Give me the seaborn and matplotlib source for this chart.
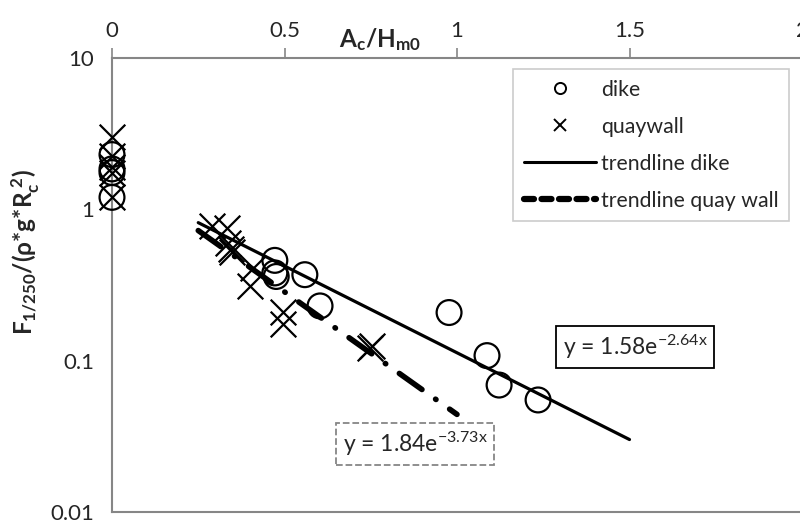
import numpy as np
import pandas as pd
import matplotlib
matplotlib.use("Agg")
import matplotlib.pyplot as plt
from matplotlib.lines import Line2D
import seaborn as sns

# ---- data ----
dike_x = [0, 0, 0, 0, 0.472, 0.472, 0.476, 0.559, 0.603, 0.977, 1.087, 1.122, 1.235]
dike_y = [2.3, 1.85, 1.75, 1.2, 0.46, 0.38, 0.36, 0.37, 0.23, 0.208, 0.108, 0.069, 0.055]
quay_x = [0, 0, 0, 0, 0, 0.29, 0.333, 0.336, 0.345, 0.348, 0.41, 0.40, 0.496, 0.496, 0.748, 0.755]
quay_y = [3.0, 2.25, 1.9, 1.75, 1.2, 0.78, 0.75, 0.60, 0.55, 0.52, 0.41, 0.31, 0.21, 0.176, 0.122, 0.125]
# trendlines: y = a * exp(b x)
dike_fit = (1.58, -2.64)
quay_fit = (1.84, -3.73)
dike_range = [0.25, 1.5]
quay_range = [0.25, 1.0]
x_ticks = [0, 0.5, 1, 1.5, 2]
x_ticklabels = ["0", "0.5", "1", "1.5", "2"]
y_ticks = [0.01, 0.1, 1, 10]
y_ticklabels = ["0.01", "0.1", "1", "10"]

sns.set_style("white")
plt.rcParams['font.family'] = ['Lato', 'DejaVu Sans']
plt.rcParams['mathtext.fontset'] = 'custom'
plt.rcParams['mathtext.rm'] = 'Lato'
plt.rcParams['mathtext.it'] = 'Lato'
plt.rcParams['mathtext.bf'] = 'Lato:bold'

fig = plt.figure(figsize=(8, 5.21), dpi=100)
ax = fig.add_axes([112/800, 1-512/521, 690/800, (512-58)/521])

gray = "#868686"

sns.scatterplot(x=dike_x, y=dike_y, ax=ax, marker="o", s=320, facecolor="none",
                edgecolor="black", linewidth=1.6, zorder=4, clip_on=False)
sns.scatterplot(x=quay_x, y=quay_y, ax=ax, marker="x", s=340, color="black",
                linewidth=1.6, zorder=4, clip_on=False)

dx = np.linspace(dike_range[0], dike_range[1], 100)
qx = np.linspace(quay_range[0], quay_range[1], 100)
sns.lineplot(x=dx, y=dike_fit[0]*np.exp(dike_fit[1]*dx), ax=ax, color="black", lw=2.3, zorder=3)
ql = sns.lineplot(x=qx, y=quay_fit[0]*np.exp(quay_fit[1]*qx), ax=ax, color="black", lw=4, zorder=3)
ql.lines[-1].set_dashes([5, 3, 0.1, 3])
ql.lines[-1].set_dash_capstyle("round")

ax.set_yscale("log")
ax.set_xlim(0, 2)
ax.set_ylim(0.01, 10)
ax.xaxis.tick_top()
ax.set_xticks(x_ticks)
ax.set_xticklabels(x_ticklabels)
ax.set_yticks(y_ticks)
ax.set_yticklabels(y_ticklabels)
ax.minorticks_off()
ax.tick_params(axis="both", which="major", length=7, width=1.2, color=gray,
               labelsize=16, direction="out", pad=6)
ax.tick_params(axis="x", pad=5)
for side in ["top", "left", "bottom"]:
    ax.spines[side].set_color(gray)
    ax.spines[side].set_linewidth(1.5)
ax.spines["right"].set_visible(False)

fig.text(380/800, 1-40/521, r"$\mathbf{A_c/H_{m0}}$", ha="center", va="center", fontsize=17.5)
fig.text(26/800, 1-252/521, r"$\mathbf{F_{1/250}/(\rho{*}g{*}R_c^{\ 2})}$", ha="center", va="center",
         fontsize=17.5, rotation=90)

handles = [
    Line2D([], [], marker="o", ls="none", mfc="none", mec="black", ms=8, mew=1.4),
    Line2D([], [], marker="x", ls="none", color="black", ms=8, mew=1.4),
    Line2D([], [], color="black", lw=2.2),
    Line2D([], [], color="black", lw=4.5, dashes=[1.6, 1.2], dash_capstyle="round"),
]
labels = ["dike", "quaywall", "trendline dike", "trendline quay wall"]
leg = ax.legend(handles, labels, loc="upper left", bbox_to_anchor=(513/800, 1-69/521),
                bbox_transform=fig.transFigure, frameon=True, fancybox=False,
                fontsize=15.3, handlelength=3.4, labelspacing=0.8, borderpad=0.5,
                handletextpad=0.25, borderaxespad=0)
leg.get_frame().set_edgecolor("#bfbfbf")
leg.get_frame().set_linewidth(1.2)

ax.text(635/800, 1-347/521, r"y = 1.58e$^{-2.64x}$", transform=fig.transFigure, ha="center",
        va="center", fontsize=16.5,
        bbox=dict(boxstyle="square,pad=0.3", fc="white", ec="black", lw=1.3))
ax.text(415/800, 1-444/521, r"y = 1.84e$^{-3.73x}$", transform=fig.transFigure, ha="center",
        va="center", fontsize=16.5,
        bbox=dict(boxstyle="square,pad=0.3", fc="white", ec=gray, lw=1.3, ls="--"))

fig.savefig("out.png", dpi=100)
